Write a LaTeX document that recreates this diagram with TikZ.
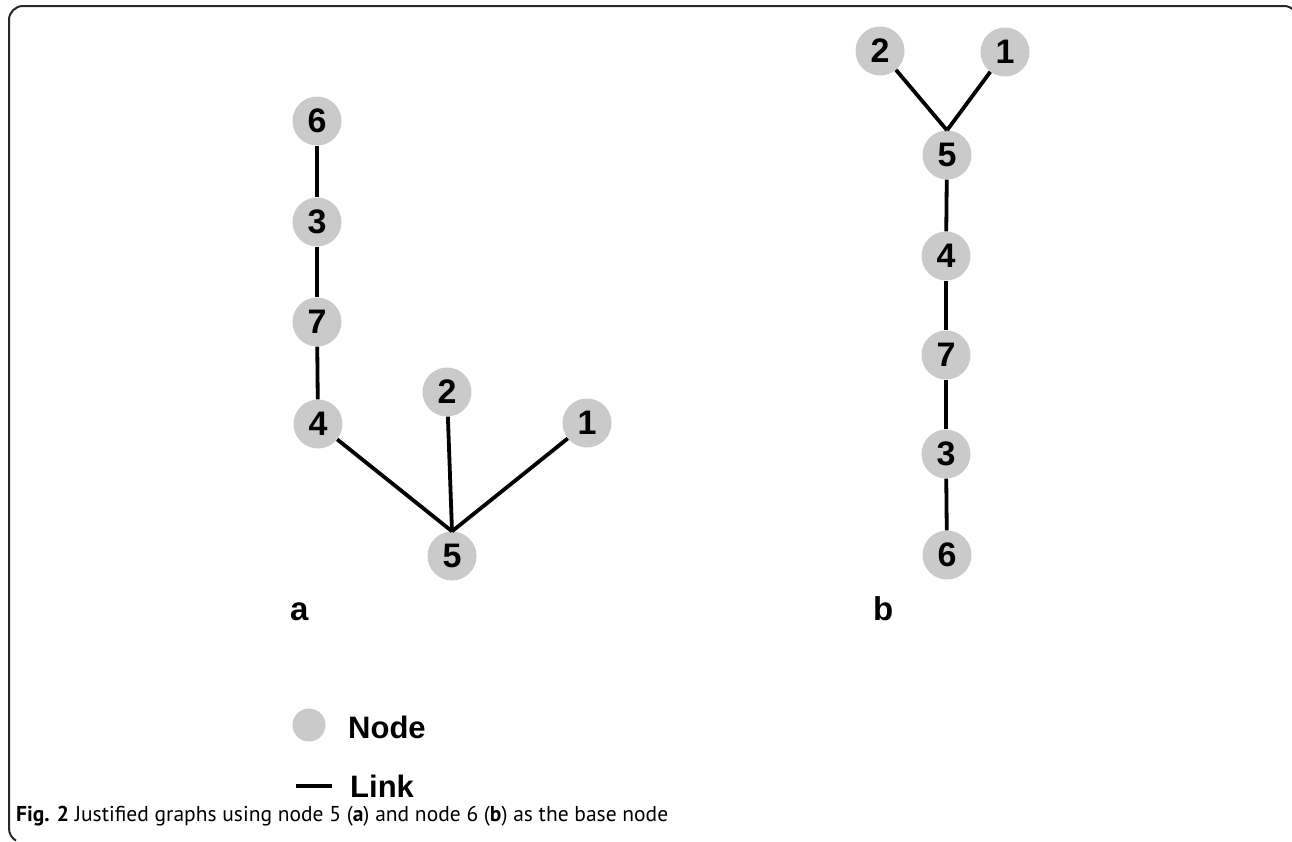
\documentclass[tikz,border=0pt]{standalone}
\usepackage{fontspec}
\setmainfont{Liberation Sans}
\newfontfamily\capfont{PT Sans}
\definecolor{nodegray}{RGB}{202,202,202}
\definecolor{framegray}{RGB}{40,40,40}
\begin{document}
\begin{tikzpicture}[x=1pt,y=-1pt,
  gnode/.style={circle,fill=nodegray,minimum size=49pt,inner sep=0pt,font=\fontsize{34}{34}\selectfont\bfseries},
  link/.style={line width=3.8pt,black},
  panel/.style={font=\fontsize{33}{33}\selectfont\bfseries,anchor=base west,inner sep=0pt},
  legendtext/.style={font=\fontsize{31}{31}\selectfont\bfseries,anchor=west,inner sep=0pt},
  frame/.style={line width=2pt,framegray}]
\useasboundingbox (0,0) rectangle (1292,841);
\clip (0,0) rectangle (1292,841);
\draw[frame,rounded corners=14pt] (1298,850) -- (1298,6) -- (9,6) -- (9,829);
\draw[frame] (9,828.5) arc[start angle=180,end angle=120,radius=14];
% panel a
\node[gnode] (a6) at (317,121) {6};
\node[gnode] (a3) at (317,222) {3};
\node[gnode] (a7) at (317,322) {7};
\node[gnode] (a4) at (318,424) {4};
\node[gnode] (a2) at (447,392) {2};
\node[gnode] (a1) at (587,423) {1};
\node[gnode] (a5) at (452,556) {5};
\draw[link] (a6) -- (a3);
\draw[link] (a3) -- (a7);
\draw[link] (a7) -- (a4);
\draw[link] (a4) -- (a5.north);
\draw[link] (a2) -- (a5.north);
\draw[link] (a1) -- (a5.north);
\node[panel] (la) at (290,620) {a};
% panel b
\node[gnode] (b2) at (880,51) {2};
\node[gnode] (b1) at (1005,52) {1};
\node[gnode] (b5) at (947,155) {5};
\node[gnode] (b4) at (946,256) {4};
\node[gnode] (b7) at (946,355) {7};
\node[gnode] (b3) at (946,454) {3};
\node[gnode] (b6) at (947,555) {6};
\draw[link] (b2) -- (b5.north);
\draw[link] (b1) -- (b5.north);
\draw[link] (b5) -- (b4);
\draw[link] (b4) -- (b7);
\draw[link] (b7) -- (b3);
\draw[link] (b3) -- (b6);
\node[panel] (lb) at (873,620) {b};
% legend
\node[circle,fill=nodegray,minimum size=33pt,inner sep=0pt] (legnode) at (309,725) {};
\node[legendtext] (legnodetext) at (348,727) {Node};
\coordinate (legl1) at (296,786);
\coordinate (legl2) at (332,786);
\draw[link] (legl1) -- (legl2);
\node[legendtext] (leglinktext) at (350,786) {Link};
% caption
\node[anchor=west,inner sep=0pt] (caption) at (16,816) {\capfont\fontsize{21.5}{21.5}\selectfont\textbf{Fig. 2} Justified graphs using node 5 (\textbf{a}) and node 6 (\textbf{b}) as the base node};
\end{tikzpicture}
\end{document}
